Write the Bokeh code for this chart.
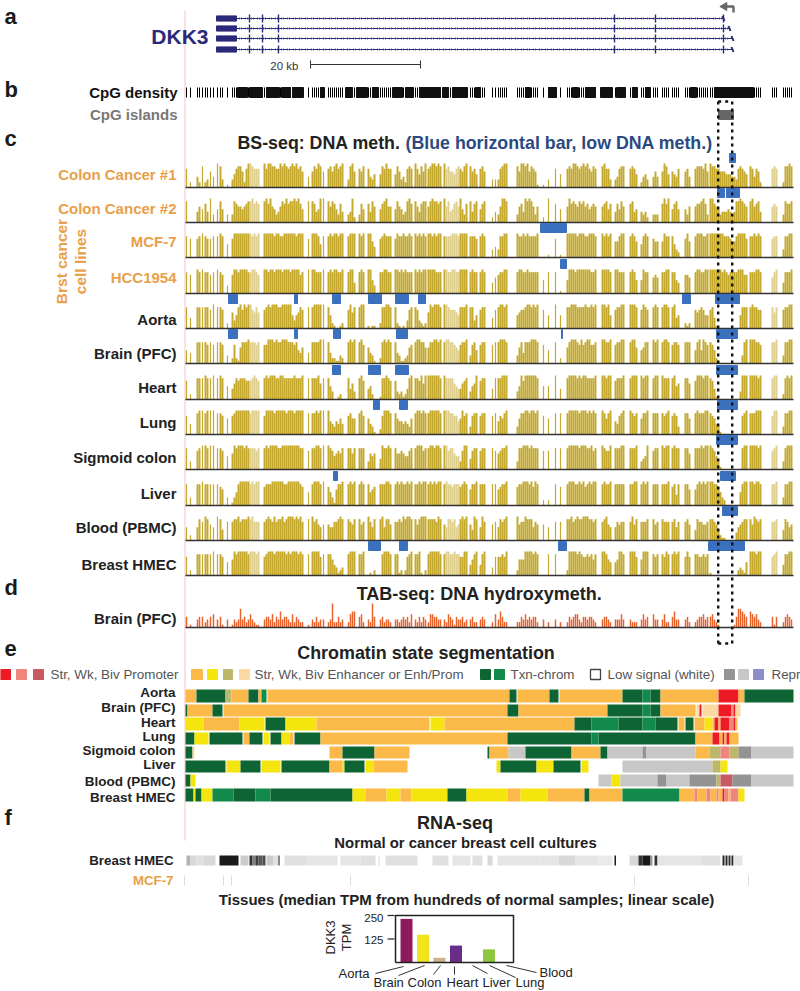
from bokeh.plotting import figure
from bokeh.models import Range1d
from bokeh.core.properties import value
from bokeh.embed import file_html
from bokeh.resources import INLINE

FONT = "Liberation Sans"

# ---------- shared CpG sites, grouped in runs (track coordinate) ----------
site_runs = [
 [186,190,197,199,202,205,207,210,213,217,220,222,227],
 [232,234,236,238,240,242,244,246,248,250,252,254,256,258],
 [264,266,268,270,272,274,276,278,280,282,284,286,288,290,292,294,296,298,300,302],
 [308],[312,314,316,318,320],[323],[328,330,332,334,336,338,340,342],[348,350,352,354],
 [359,361,363],[368,370,372,374],[380,382,384,386,388,390],[395,397,399,401,403,405,407,409,411],
 [415,417,419,421,423,425],[428,430,432,434,436,438,440],[444,446,448,450,452,454,456,458,460,462,464,466],
 [470,472,474,476],[480,482,484],[492],[495],[498,500,502,504,506],[517,519,521,523],
 [525,527,529,531,533,535,537],[543,548],[555,560],
 [567,569,571,573,575,577,579,581,583,585,587,589,591,593,595],[602,604,606,608,610],
 [615,617,619,621,623],[630,632,634,636],[641,643,645,647],[653,655,657],[662,664,666,668],
 [672,674,676,678],[685,687,689],[695,697,699,701,703,705,707],
 [710,712,714,716,718,720,722,724,726,728,730,732,734,736,738,740,742,744,746],
 [750,752,754,756,758,760],[772,774,776],[783,785,787,789,791],
]
light_ranges = [(250,260),(445,459),(772,777)]

# ---------- methylation level per site, 0-9, one word per run ----------
colon_cancer_1 = "7242823649831 35788627998777 97998877989878989786 4 68798 6 78689789 3896 768 7435 587977 586342787 975869 7899898 978665787689 8675 786 3 3 37899 8699 8968761 13 75 787998789897687 89773 34788 7875 2453 464 6985 6547 674 7888796 9887766655544378765 874762 787 28898"
colon_cancer_2 = "8046574935853 38766567889787 89796534687978898975 8 87459 9 86875374 3492 375 7486 578966 586534897 864788 6898878 968457869537 8478 578 2 4 36998 3674 9898636 29 75 697876878675676 67857 47586 7845 4342 333 7979 5785 536 6778973 9976534445434889876 896784 676 38778"
mcf_7 = "8778987788985 79999999998989 99999899889999998999 7 99985 8 89899899 8999 989 9964 789888 798898898 989898 9989899 888899989999 8887 898 3 4 38899 9889 8988889 01 71 999998999889998 98989 66899 8986 5898 766 6988 8532 796 8999889 9999999888766899997 889898 788 38899"
hcc1954 = "8798988789873 79989999889987 99899899989998999978 9 99888 9 89899889 8994 898 9953 889988 998989888 989899 9999888 998899889999 8988 898 4 6 78899 8998 8988888 58 81 599989999999889 99998 99888 8985 5988 676 8899 8854 776 8998899 9999998987888899977 888998 689 48889"
aorta = "8488888798872 63589798997686 78989998899999535687 8 89999 9 85210012 7968 899 1011 288998 821010378 873212 6989998 998777658889 8835 788 4 7 89989 5677 8998989 75 95 889998888988989 99895 78899 9998 7987 898 8998 8945 212 7678755 7841000000000005888 898877 868 78899"
brain_pfc = "5488887878873 27216888988878 77999898899988878546 4 88889 9 84221132 8989 897 6431 289898 843112367 899886 6889989 899887657889 3785 788 7 8 89998 3684 8889998 75 82 689998797899778 99889 78899 8996 5688 989 8998 7887 888 5895987 8752100000000000389 999887 889 38899"
heart = "7288898898985 46878887778987 89899988998888898889 8 88896 8 85300120 8463 897 4520 188987 732312489 887969 9999998 988886544678 3569 788 4 8 88999 3597 9999998 55 94 899998989988889 99899 78889 8999 9899 899 9888 8956 886 7999899 8741000000000003999 999989 899 28989"
lung = "7489989998876 78999999989999 79999899999899989999 8 88989 9 95435464 7866 897 6431 279998 865545436 899898 8999998 999887756978 3788 788 7 8 57689 3688 9989989 76 88 899999899989898 98689 54789 9878 6889 888 8789 7873 886 8988899 8764310000000000789 888999 799 38899"
sigmoid_colon = "8378998998875 69899989888878 89899998899999999988 7 88998 9 98756768 8868 888 3656 498898 866765578 899978 8998998 997886553799 4788 788 8 7 67889 3889 9989888 77 88 899999899988978 98779 88899 8889 3459 788 9899 8988 886 8889899 9875310000000000899 999989 789 38999"
liver = "8388988888763 13589999989899 78889999998899999987 5 89998 9 75316889 8989 898 8567 888998 898988989 889899 8989899 898878887898 6889 888 8 8 67889 7889 9989798 22 87 899988989789899 89889 88888 8899 8989 888 8889 7848 886 6898989 9988753200000005899 998998 889 38899"
blood_pbmc = "5258798659847 78897888989777 78987978897899989897 8 97865 6 65577898 8768 867 9758 895886 778798998 868999 8888798 658878568989 6498 597 6 7 58789 9677 9888576 65 77 889789889998878 78965 57677 7968 7778 867 8777 7857 786 4877667 8876421100000356788 869878 778 48756"
breast_hmec = "7288888898875 69899999899989 78999899999898999898 8 99997 8 88643123 8999 889 0102 089998 881202789 889102 8999998 899889887799 4689 489 3 7 77879 2666 9999898 08 80 299998987787868 99865 56998 9997 6999 878 8798 8989 797 8877878 1000000000000023215 999899 789 48899"
tab_brain_pfc = "4134423453413 13237342353211 34435243634432524322 1 32423 3 23922423 2566 452 3294 342332 332343425 324243 2554433 325431433423 3422 343 2 5 36422 2243 5343442 32 32 243455324434432 34432 33353 3222 3534 533 3522 4633 342 2344534 4532100000001477654 654532 414 24543"

# ---------- tracks ----------
track_names = ["Colon Cancer #1","Colon Cancer #2","MCF-7","HCC1954","Aorta","Brain (PFC)","Heart","Lung",
               "Sigmoid colon","Liver","Blood (PBMC)","Breast HMEC"]
track_values = [colon_cancer_1,colon_cancer_2,mcf_7,hcc1954,aorta,brain_pfc,heart,lung,sigmoid_colon,liver,blood_pbmc,breast_hmec]
track_base = [187,222,257,293,328,363,399,434,469,505,540,575]
track_label_y = [174,208,241,277,319,353,387,422,457,493,527,564]
track_label_col = ["#e8a04a"]*4 + ["#222222"]*8
low_meth = [
 [(729,735)],
 [(717,724),(726,739)],
 [(540,566)],
 [(560,566)],
 [(228,237),(294,297),(332,340),(368,381),(395,408),(418,425),(682,690),(715,739)],
 [(228,237),(294,297),(333,340),(396,407),(561,562),(716,737)],
 [(332,340),(368,380),(395,408),(716,737)],
 [(373,379),(399,407),(717,737)],
 [(716,737)],
 [(333,337),(720,735)],
 [(722,737)],
 [(368,380),(399,407),(558,566),(708,744)],
]

# ---------- chromatin ----------
state_color = dict(O="#fbb949",Y="#f5e50e",G="#0f6434",g="#118a4b",R="#ed1c24",P="#f0857d",B="#c85a63",
                   K="#bdb76b",T="#fcd9a0",D="#939393",L="#c7c7c7",V="#8d8dc8")
chrom_rows = ["Aorta","Brain (PFC)","Heart","Lung","Sigmoid colon","Liver","Blood (PBMC)","Breast HMEC"]
chrom_top = [689,704,717,732,746,760,774,788]
chrom_bot = [702,716,730,744,758,772,786,801]
chrom_label_y = [692,707,722,736,750,764,781,797]
seg_aorta = [("O",185,196),("G",196,225),("K",225,231),("O",231,248),("G",248,258),("O",258,261),("g",261,266),("O",267,509),("G",509,516),("O",517,549),("G",549,558),("O",559,622),("G",622,642),("g",642,650),("G",650,660),("O",660,718),("R",718,738),("O",738,744),("G",744,793)]
seg_brain = [("G",185,187),("O",187,212),("G",212,222),("O",223,507),("G",507,518),("O",518,607),("G",607,642),("g",642,650),("G",650,660),("O",660,695),("T",696,699),("R",699,701),("T",702,718),("R",718,731),("P",731,733),("R",733,735),("T",735,740)]
seg_heart = [("Y",185,203),("O",203,239),("Y",239,264),("G",265,285),("Y",285,316),("O",316,429),("Y",430,444),("O",444,574),("G",574,591),("g",591,618),("G",618,642),("g",642,655),("G",655,677),("O",678,684),("G",685,693),("O",694,704),("Y",704,712),("O",712,714),("R",714,718),("O",718,720),("R",720,729),("P",729,733),("R",733,735),("O",735,737)]
seg_lung = [("G",185,194),("Y",194,208),("G",209,242),("O",243,249),("G",249,262),("Y",263,269),("G",270,281),("Y",281,289),("O",289,293),("G",294,320),("O",320,507),("G",507,591),("g",591,598),("G",598,695),("O",695,712),("R",712,719),("O",719,722),("R",722,724),("O",724,726),("R",726,729),("O",729,738)]
seg_sigmoid = [("G",185,192),("T",192,194),("O",329,342),("G",342,374),("O",374,409),("G",487,489),("O",489,508),("L",508,525),("G",525,571),("O",571,600),("G",600,607),("L",607,642),("D",642,646),("L",646,695),("O",695,709),("K",709,720),("P",720,729),("K",729,738),("D",738,751),("L",751,793)]
seg_liver = [("G",185,225),("Y",226,240),("G",240,260),("Y",261,280),("G",281,329),("O",329,342),("Y",342,344),("G",344,364),("Y",365,373),("O",373,407),("Y",496,500),("G",500,536),("Y",536,553),("G",553,580),("Y",581,588),("L",622,712),("K",712,720),("Y",720,727)]
seg_blood = [("G",185,190),("Y",190,195),("L",598,611),("Y",611,620),("L",620,657),("D",657,666),("L",666,689),("D",689,716),("K",716,720),("B",720,732),("D",732,751),("L",751,793)]
seg_hmec = [("G",185,193),("Y",193,195),("G",195,201),("Y",201,212),("g",212,233),("G",233,255),("g",255,270),("G",270,352),("Y",352,365),("O",365,386),("Y",386,400),("O",400,411),("Y",411,447),("G",447,466),("Y",466,507),("O",507,520),("Y",520,547),("O",547,584),("G",584,589),("O",589,622),("g",622,679),("O",679,694),("P",694,697),("O",697,706),("P",706,710),("O",710,716),("P",716,718),("O",718,722),("R",722,724),("P",724,728),("O",728,730),("P",730,738),("Y",738,744)]
chrom_segments = [seg_aorta,seg_brain,seg_heart,seg_lung,seg_sigmoid,seg_liver,seg_blood,seg_hmec]

# ---------- RNA strip ----------
rna_hmec = [(186,190,.7),(190,196,.85),(196,203,.88),(203,215,.85),(219,238,.1),(240,248,.8),(249,252,.2),(252,255,.5),(255,258,.25),(258,262,.35),(262,265,.3),(266,273,.8),(273,278,.88),(278,279,.1),(284,307,.88),(307,337,.9),(340,360,.9),(360,375,.88),(378,379,.85),(385,417,.88),(432,448,.88),(452,470,.9),(472,482,.88),(487,492,.85),(497,540,.9),(540,558,.9),(558,575,.85),(575,598,.9),(598,612,.92),(614,615.5,.1),(629,638,.85),(638,642,.2),(642,650,.1),(650,652,.6),(654,657,.2),(657,700,.9),(700,720,.88),(722,724,.15),(725,727,.15),(728,730,.2),(731,733,.15),(733,742,.9)]
rna_mcf7_ticks = [184,223,231,350,634,748]

# ---------- tissue bars ----------
tissues = ["Aorta","Brain","Colon","Heart","Liver","Lung","Blood"]
tissue_tpm = [232,148,25,90,1,70,1]
tissue_col = ["#8e1a5e","#efe51a","#c9b28c","#6a2d8a","#777777","#8ec63f","#777777"]
tissue_slot = [0,1,2,3,4,5,6]

# ---------- gene ----------
exons = [249,262,278,614,655,723]
transcript_y = [18,28,38,49]
transcript_end = [723,729,732,732]

# ---------- CpG density blocks ----------
cpg_blocks = [(237,247),(249,262),(266,279),(281,290),(292,303),(320,324),(345,352),(356,367),(372,378),(392,402),(405,413),(419,440),(442,448),(452,467),(475,480),(525,530),(548,556),(572,578),(585,595),(600,612),(616,625),(632,637),(645,650),(690,696),(714,753)]

TITLE = 17.8
p = figure(width=800, height=991, x_range=Range1d(0,800), y_range=Range1d(991,0),
           toolbar_location=None, output_backend="svg", min_border=0, outline_line_color=None,
           background_fill_color="white", border_fill_color="white")
p.xaxis.visible=False; p.yaxis.visible=False; p.grid.visible=False
TPM_PER_PX = 250/47
p.extra_y_ranges = {"tpm": Range1d(-29*TPM_PER_PX, 962*TPM_PER_PX)}

def label(x,y,t,size=13.5,color="#222222",bold=True,align="right",angle=0):
    p.text([x],[y],text=[t],text_font=value(FONT),text_font_size=f"{size}px",text_color=color,
           text_font_style="bold" if bold else "normal",text_align=align,text_baseline="middle",angle=angle)

# pink rule
p.segment([184.5],[10],[184.5],[840],line_color="#f0c4c4",line_width=1)

# panel letters
for t,y in zip("abcdef",[16,89,138,587,648,817]):
    label(4,y,t,size=22,color="#1a1a1a",align="left")

# gene
GENE="#2a2a7a"
for y,e in zip(transcript_y,transcript_end):
    p.quad(left=[216],right=[236],top=[y-2.6],bottom=[y+2.6],color=GENE)
    p.segment([236],[y],[e],[y],line_color=GENE,line_width=1)
    xs=list(range(240,e,6))
    p.scatter(xs,[y]*len(xs),marker="x",size=3.5,line_color="#6a6ab0",line_width=.7)
    p.segment(exons,[y-4]*6,exons,[y+4]*6,line_color=GENE,line_width=1.4)
    p.segment([e-1],[y-2.5],[e+1],[y+2.5],line_color=GENE,line_width=2)
label(208,36,"DKK3",size=21,color=GENE)
p.multi_line([[733,733,725]],[[12,6,6]],line_color="#666666",line_width=2.4)
p.scatter([724],[6],marker="triangle",angle=1.5708,size=8,color="#666666")
label(298,65,"20 kb",size=11.5,color="#333333",bold=False)
p.segment([310],[64],[420],[64],line_color="#333333",line_width=1)
p.segment([310,420],[60,60],[310,420],[68,68],line_color="#333333",line_width=1)

# CpG density
label(177,92,"CpG density",size=15,color="#111111")
all_sites=[s for r in site_runs for s in r]
p.segment(all_sites,[87]*len(all_sites),all_sites,[97]*len(all_sites),line_color="black",line_width=1)
p.quad(left=[a for a,b in cpg_blocks],right=[b for a,b in cpg_blocks],top=[87]*len(cpg_blocks),bottom=[97]*len(cpg_blocks),color="#111111")
label(177,114,"CpG islands",size=15,color="#777777")
p.quad(left=[718],right=[733],top=[110],bottom=[119],color="#666666")

# titles
label(237,142,"BS-seq: DNA meth.",size=TITLE,align="left")
label(405,142,"(Blue horizontal bar, low DNA meth.)",size=TITLE,color="#2b4a80",align="left")

# methylation tracks
def draw_track(vals,base,col,lightcol,thin=False):
    xs,tops,wid,cols=[],[],[],[]
    for run,word in zip(site_runs,vals.split()):
        for i,(s,d) in enumerate(zip(run,word)):
            if d=="0": continue
            near = (i>0 and s-run[i-1]<=2) or (i+1<len(run) and run[i+1]-s<=2)
            xs.append(s); tops.append(base-int(d)*24/9)
            wid.append(1.5 if thin else (1.95 if near else 1.2))
            cols.append(lightcol if any(a<=s<=b for a,b in light_ranges) else col)
    p.vbar(x=xs,width=wid,top=tops,bottom=[base]*len(xs),color=cols,line_width=0)
    p.segment([185],[base],[793],[base],line_color="#333333",line_width=1.5)

for name,vals,base,ly,lc,lows in zip(track_names,track_values,track_base,track_label_y,track_label_col,low_meth):
    draw_track(vals,base,"#c5a82e","#dfcf8f")
    label(176,ly,name,size=15,color=lc)
    p.quad(left=[a for a,b in lows],right=[b for a,b in lows],top=[base-34]*len(lows),bottom=[base-25]*len(lows),color="#3a70bd")

label(61,261,"Brst cancer",size=15.5,color="#e8a04a",align="center",angle=1.5708)
label(80,261,"cell lines",size=15.5,color="#e8a04a",align="center",angle=1.5708)

label(479,593,"TAB-seq: DNA hydroxymeth.",size=18,align="center")
label(176,618,"Brain (PFC)",size=15)
draw_track(tab_brain_pfc,627,"#e8622c","#e8622c",thin=True)

# dotted box
p.segment([717.7,731.7],[101,101],[717.7,731.7],[643,643],line_color="#111111",line_width=2.4,line_dash="3 4")
p.segment([717.7,717.7],[101,643],[731.7,731.7],[101,643],line_color="#111111",line_width=2.4,line_dash="3 4")

# chromatin
label(425.5,652,"Chromatin state segmentation",size=17.9,align="center")
for sq,col in zip([(0,10),(16,26),(33,43)],["#ed1c24","#f0857d","#c85a63"]):
    p.quad(left=[sq[0]],right=[sq[1]],top=[669],bottom=[679],color=col)
label(50,674,"Str, Wk, Biv Promoter",size=13.4,color="#555555",bold=False,align="left")
for sq,col in zip([(191,202),(207,217),(223,232),(239,249)],["#fbb949","#f5e50e","#bdb76b","#fcd9a0"]):
    p.quad(left=[sq[0]],right=[sq[1]],top=[669],bottom=[679],color=col)
label(254,674,"Str, Wk, Biv Enhancer or Enh/Prom",size=13.4,color="#555555",bold=False,align="left")
for sq,col in zip([(480,490),(494,504)],["#0f6434","#118a4b"]):
    p.quad(left=[sq[0]],right=[sq[1]],top=[669],bottom=[679],color=col)
label(510,674,"Txn-chrom",size=13.4,color="#555555",bold=False,align="left")
p.quad(left=[590],right=[600],top=[669],bottom=[679],fill_color="white",line_color="#444444",line_width=1.3)
label(607,674,"Low signal (white)",size=13.4,color="#555555",bold=False,align="left")
for sq,col in zip([(724,734),(738,748),(753,763)],["#939393","#c7c7c7","#8d8dc8"]):
    p.quad(left=[sq[0]],right=[sq[1]],top=[669],bottom=[679],color=col)
label(771,674,"Repr",size=13.4,color="#555555",bold=False,align="left")

for name,segs,t,b,ly in zip(chrom_rows,chrom_segments,chrom_top,chrom_bot,chrom_label_y):
    p.quad(left=[s[1] for s in segs],right=[s[2] for s in segs],top=[t]*len(segs),bottom=[b]*len(segs),
           color=[state_color[s[0]] for s in segs],line_width=0)
    label(175,ly,name,size=13.5)

# RNA-seq
label(454.5,822,"RNA-seq",size=18,align="center")
label(465,842,"Normal or cancer breast cell cultures",size=14.9,align="center")
label(173,860,"Breast HMEC",size=13.3)
label(173,880,"MCF-7",size=13.3,color="#e8a04a")
def grey(v):
    c=int(v*255); return f"#{c:02x}{c:02x}{c:02x}"
p.quad(left=[r[0] for r in rna_hmec],right=[r[1] for r in rna_hmec],top=[855]*len(rna_hmec),bottom=[865]*len(rna_hmec),
       color=[grey(r[2]) for r in rna_hmec],line_width=0)
p.segment(rna_mcf7_ticks,[875]*6,rna_mcf7_ticks,[885]*6,line_color="#dddddd",line_width=1)

# tissues
label(466,899,"Tissues (median TPM from hundreds of normal samples; linear scale)",size=15,align="center")
p.vbar(x=[406+16.5*s for s in tissue_slot],width=12,top=tissue_tpm,bottom=[0]*7,color=tissue_col,y_range_name="tpm",line_width=0)
p.multi_line([[395,395,513,513,395]],[[0,250,250,0,0]],line_color="#222222",line_width=1.5,y_range_name="tpm")
p.segment([387,387],[125,250],[394,394],[125,250],line_color="#222222",line_width=1.2,y_range_name="tpm")
label(383,917,"250",size=11.5,bold=False)
label(383,939,"125",size=11.5,bold=False)
label(330,937,"DKK3",size=13,bold=False,align="center",angle=1.5708)
label(346,937,"TPM",size=13,bold=False,align="center",angle=1.5708)
for t,x,y,a in zip(tissues,[338,373,407,446,482,515,539],[973,982,982,982,982,982,972],["left"]*7):
    label(x,y,t,size=13,bold=False,align=a)
p.segment([375,398,433,454,472,489,506],[973,975,974,974,965,965,965],
          [403,424,440,454,487,515,536],[966,965,965,966,973,977,972],line_color="#333333",line_width=1)

open("out.html","w").write(file_html(p,INLINE))
